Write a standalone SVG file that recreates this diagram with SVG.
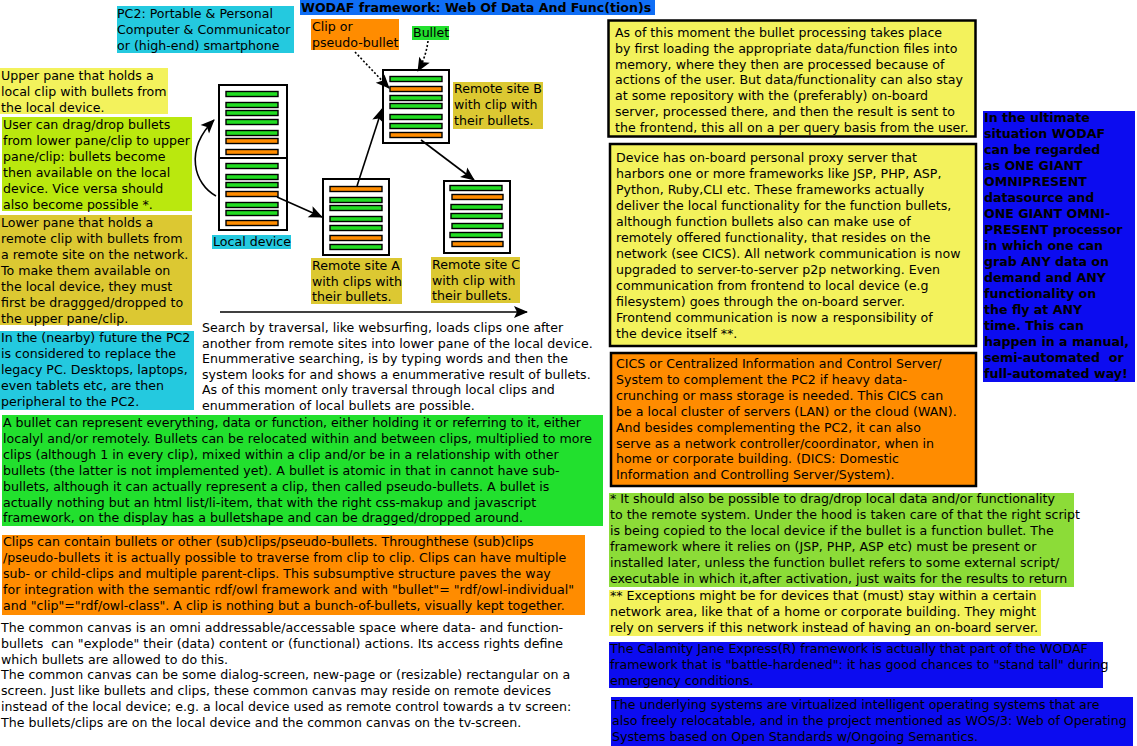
<svg xmlns="http://www.w3.org/2000/svg" width="1137" height="746" viewBox="0 0 1137 746">
<style>
text{font-family:"DejaVu Sans","Liberation Sans",sans-serif;font-size:12.6px;fill:#000;white-space:pre}
.b{font-weight:bold}
.box{stroke:none}
.bd{stroke:#000;stroke-width:2.5}
.cy{fill:#24c9df}.ye{fill:#f3f25c}.li{fill:#bae80e}.ol{fill:#dcc832}.gr{fill:#22e02e}.or{fill:#ff8c00}.lg{fill:#8cdc38}.bl{fill:#0c0cf0}.tb{fill:#0f6ef5}
.clip{fill:#fff;stroke:#000;stroke-width:2}
.g{fill:#22dd22;stroke:#000;stroke-width:1.4}
.o{fill:#ff8c00;stroke:#000;stroke-width:1.4}
.c{fill:none;stroke:#000;stroke-width:1.6}
.d{fill:none;stroke:#000;stroke-width:1.6;stroke-dasharray:2,2}
</style>
<defs>
<marker id="ah" markerUnits="userSpaceOnUse" markerWidth="16" markerHeight="14" refX="13" refY="6" orient="auto" overflow="visible">
<path d="M0,0 L14,6 L0,12 L3,6 z" fill="#000"/>
</marker>
</defs>
<rect width="1137" height="746" fill="#fff"/>

<g id="title">
<rect class="box tb" x="300" y="0" width="355" height="15"/>
<text class="b" x="301" y="12">WODAF framework: Web Of Data And Func(tion)s</text>
</g>

<g id="pc2">
<rect class="box cy" x="117" y="6" width="177" height="47"/>
<text><tspan x="117" y="18">PC2: Portable &amp; Personal</tspan><tspan x="117" y="34">Computer &amp; Communicator</tspan><tspan x="117" y="50">or (high-end) smartphone</tspan></text>
</g>

<g id="upper-pane">
<rect class="box ye" x="0" y="68" width="168" height="46"/>
<text><tspan x="1" y="80">Upper pane that holds a</tspan><tspan x="1" y="96">local clip with bullets from</tspan><tspan x="1" y="112">the local device.</tspan></text>
</g>

<g id="drag-drop">
<rect class="box li" x="2" y="117" width="190" height="94"/>
<text><tspan x="3" y="129">User can drag/drop bullets</tspan><tspan x="3" y="145">from lower pane/clip to upper</tspan><tspan x="3" y="161">pane/clip: bullets become</tspan><tspan x="3" y="177">then available on the local</tspan><tspan x="3" y="193">device. Vice versa should</tspan><tspan x="3" y="209">also become possible *.</tspan></text>
</g>

<g id="lower-pane">
<rect class="box ol" x="0" y="215" width="192" height="110"/>
<text><tspan x="1" y="227">Lower pane that holds a</tspan><tspan x="1" y="243">remote clip with bullets from</tspan><tspan x="1" y="259">a remote site on the network.</tspan><tspan x="1" y="275">To make them available on</tspan><tspan x="1" y="291">the local device, they must</tspan><tspan x="1" y="307">first be draggged/dropped to</tspan><tspan x="1" y="323">the upper pane/clip.</tspan></text>
</g>

<g id="future">
<rect class="box cy" x="0" y="331" width="194" height="79"/>
<text><tspan x="1" y="342">In the (nearby) future the PC2</tspan><tspan x="1" y="358">is considered to replace the</tspan><tspan x="1" y="374">legacy PC. Desktops, laptops,</tspan><tspan x="1" y="390">even tablets etc, are then</tspan><tspan x="1" y="406">peripheral to the PC2.</tspan></text>
</g>

<g id="local-device">
<rect class="clip" x="219" y="85" width="68" height="145"/>
<line x1="219" y1="158" x2="287" y2="158" stroke="#000" stroke-width="2"/>
<rect class="g" x="226" y="91.5" width="52" height="5"/>
<rect class="g" x="226" y="102.5" width="52" height="5"/>
<rect class="g" x="226" y="110.5" width="52" height="5"/>
<rect class="g" x="226" y="119.5" width="52" height="5"/>
<rect class="g" x="226" y="130.5" width="52" height="5"/>
<rect class="o" x="226" y="138.5" width="52" height="5"/>
<rect class="o" x="226" y="149.5" width="52" height="5"/>
<rect class="g" x="226" y="163.5" width="52" height="5"/>
<rect class="g" x="226" y="174.5" width="52" height="5"/>
<rect class="g" x="226" y="182.5" width="52" height="5"/>
<rect class="o" x="226" y="191.5" width="52" height="5"/>
<rect class="g" x="226" y="202.5" width="52" height="5"/>
<rect class="g" x="226" y="210.5" width="52" height="5"/>
<rect class="o" x="226" y="220.5" width="52" height="5"/>
<rect class="box cy" x="212" y="235" width="79" height="14"/>
<text x="213" y="246">Local device</text>
</g>

<g id="remote-a">
<rect class="clip" x="323" y="179" width="66" height="76"/>
<rect class="o" x="330" y="186.5" width="52" height="5"/>
<rect class="g" x="330" y="197.5" width="52" height="5"/>
<rect class="g" x="330" y="205.5" width="52" height="5"/>
<rect class="g" x="330" y="216.5" width="52" height="5"/>
<rect class="g" x="330" y="225.5" width="52" height="5"/>
<rect class="o" x="330" y="235.5" width="52" height="5"/>
<rect class="g" x="330" y="244.5" width="52" height="5"/>
<rect class="box ol" x="311" y="258" width="91" height="46"/>
<text><tspan x="312" y="270">Remote site A</tspan><tspan x="312" y="286">with clips with</tspan><tspan x="312" y="301">their bullets.</tspan></text>
</g>

<g id="remote-b">
<rect class="clip" x="383" y="70" width="66" height="73"/>
<rect class="g" x="390" y="76.5" width="52" height="5"/>
<rect class="o" x="390" y="86.5" width="52" height="5"/>
<rect class="g" x="390" y="95.5" width="52" height="5"/>
<rect class="g" x="390" y="103.5" width="52" height="5"/>
<rect class="g" x="390" y="114.5" width="52" height="5"/>
<rect class="g" x="390" y="123.5" width="52" height="5"/>
<rect class="o" x="390" y="132.5" width="52" height="5"/>
<rect class="box ol" x="453" y="82" width="90" height="47"/>
<text><tspan x="454" y="93">Remote site B</tspan><tspan x="454" y="109">with clip with</tspan><tspan x="454" y="125">their bullets.</tspan></text>
</g>

<g id="remote-c">
<rect class="clip" x="444" y="181" width="66" height="72"/>
<rect class="g" x="450" y="185.5" width="52" height="5"/>
<rect class="o" x="452" y="194.5" width="51" height="5"/>
<rect class="g" x="451" y="204.5" width="51" height="5"/>
<rect class="g" x="451" y="213.5" width="51" height="5"/>
<rect class="g" x="452" y="223.5" width="51" height="5"/>
<rect class="g" x="450" y="232.5" width="52" height="5"/>
<rect class="o" x="452" y="241.5" width="51" height="5"/>
<rect class="box ol" x="431" y="257" width="89" height="46"/>
<text><tspan x="432" y="269">Remote site C</tspan><tspan x="432" y="285">with clip with</tspan><tspan x="432" y="300">their bullets.</tspan></text>
</g>

<g id="label-clip">
<rect class="box or" x="311" y="19" width="88" height="31"/>
<text><tspan x="312" y="31">Clip or</tspan><tspan x="312" y="47">pseudo-bullet</tspan></text>
</g>

<g id="label-bullet">
<rect class="box gr" x="412" y="26" width="37" height="14"/>
<text x="413" y="37">Bullet</text>
</g>

<g id="connectors">
<path class="c" d="M216,196 C194,184 184,150 214,120" marker-end="url(#ah)"/>
<path class="c" d="M277,197 L322,217" marker-end="url(#ah)"/>
<path class="c" d="M357,186 L382,109" marker-end="url(#ah)"/>
<path class="c" d="M421,140 L474,180" marker-end="url(#ah)"/>
<path class="d" d="M355,52 L389,88" marker-end="url(#ah)"/>
<path class="d" d="M428,41 Q426,57 418,71" marker-end="url(#ah)"/>
<path class="c" d="M220,312 L527,312" marker-end="url(#ah)"/>
</g>

<g id="search">
<text><tspan x="202" y="332">Search by traversal, like websurfing, loads clips one after</tspan><tspan x="202" y="348">another from remote sites into lower pane of the local device.</tspan><tspan x="202" y="363">Enummerative searching, is by typing words and then the</tspan><tspan x="202" y="379">system looks for and shows a enummerative result of bullets.</tspan><tspan x="202" y="394">As of this moment only traversal through local clips and</tspan><tspan x="202" y="410">enummeration of local bullets are possible.</tspan></text>
</g>

<g id="bullet-desc">
<rect class="box gr" x="2" y="415" width="601" height="111"/>
<text><tspan x="3" y="427">A bullet can represent everything, data or function, either holding it or referring to it, either</tspan><tspan x="3" y="443">localyl and/or remotely. Bullets can be relocated within and between clips, multiplied to more</tspan><tspan x="3" y="459">clips (although 1 in every clip), mixed within a clip and/or be in a relationship with other</tspan><tspan x="3" y="475">bullets (the latter is not implemented yet). A bullet is atomic in that in cannot have sub-</tspan><tspan x="3" y="491">bullets, although it can actually represent a clip, then called pseudo-bullets. A bullet is</tspan><tspan x="3" y="507">actually nothing but an html list/li-item, that with the right css-makup and javascript</tspan><tspan x="3" y="522">framework, on the display has a bulletshape and can be dragged/dropped around.</tspan></text>
</g>

<g id="clip-desc">
<rect class="box or" x="2" y="535" width="583" height="80"/>
<text><tspan x="3" y="546">Clips can contain bullets or other (sub)clips/pseudo-bullets. Throughthese (sub)clips</tspan><tspan x="3" y="562">/pseudo-bullets it is actually possible to traverse from clip to clip. Clips can have multiple</tspan><tspan x="3" y="578">sub- or child-clips and multiple parent-clips. This subsumptive structure paves the way</tspan><tspan x="3" y="594">for integration with the semantic rdf/owl framework and with "bullet"= "rdf/owl-individual"</tspan><tspan x="3" y="610">and "clip"="rdf/owl-class". A clip is nothing but a bunch-of-bullets, visually kept together.</tspan></text>
</g>

<g id="canvas-desc">
<text><tspan x="1" y="632">The common canvas is an omni addressable/accessable space where data- and function-</tspan><tspan x="1" y="648">bullets  can "explode" their (data) content or (functional) actions. Its access rights define</tspan><tspan x="1" y="664">which bullets are allowed to do this.</tspan><tspan x="1" y="679">The common canvas can be some dialog-screen, new-page or (resizable) rectangular on a</tspan><tspan x="1" y="695">screen. Just like bullets and clips, these common canvas may reside on remote devices</tspan><tspan x="1" y="711">instead of the local device; e.g. a local device used as remote control towards a tv screen:</tspan><tspan x="1" y="727">The bullets/clips are on the local device and the common canvas on the tv-screen.</tspan></text>
</g>

<g id="processing">
<rect class="ye bd" x="608.5" y="20.5" width="367" height="116"/>
<text><tspan x="615" y="37">As of this moment the bullet processing takes place</tspan><tspan x="615" y="53">by first loading the appropriate data/function files into</tspan><tspan x="615" y="69">memory, where they then are processed because of</tspan><tspan x="615" y="84">actions of the user. But data/functionality can also stay</tspan><tspan x="615" y="100">at some repository with the (preferably) on-board</tspan><tspan x="615" y="116">server, processed there, and then the result is sent to</tspan><tspan x="615" y="132">the frontend, this all on a per query basis from the user.</tspan></text>
</g>

<g id="proxy-server">
<rect class="ye bd" x="610" y="144" width="366" height="202"/>
<text><tspan x="616" y="162">Device has on-board personal proxy server that</tspan><tspan x="616" y="178">harbors one or more frameworks like JSP, PHP, ASP,</tspan><tspan x="616" y="194">Python, Ruby,CLI etc. These frameworks actually</tspan><tspan x="616" y="210">deliver the local functionality for the function bullets,</tspan><tspan x="616" y="226">although function bullets also can make use of</tspan><tspan x="616" y="242">remotely offered functionality, that resides on the</tspan><tspan x="616" y="258">network (see CICS). All network communication is now</tspan><tspan x="616" y="274">upgraded to server-to-server p2p networking. Even</tspan><tspan x="616" y="290">communication from frontend to local device (e.g</tspan><tspan x="616" y="306">filesystem) goes through the on-board server.</tspan><tspan x="616" y="322">Frontend communication is now a responsibility of</tspan><tspan x="616" y="338">the device itself **.</tspan></text>
</g>

<g id="cics">
<rect class="or bd" x="611" y="353" width="365" height="133"/>
<text><tspan x="616" y="368">CICS or Centralized Information and Control Server/</tspan><tspan x="616" y="384">System to complement the PC2 if heavy data-</tspan><tspan x="616" y="400">crunching or mass storage is needed. This CICS can</tspan><tspan x="616" y="416">be a local cluster of servers (LAN) or the cloud (WAN).</tspan><tspan x="616" y="432">And besides complementing the PC2, it can also</tspan><tspan x="616" y="448">serve as a network controller/coordinator, when in</tspan><tspan x="616" y="463">home or corporate building. (DICS: Domestic</tspan><tspan x="616" y="479">Information and Controlling Server/System).</tspan></text>
</g>

<g id="ultimate">
<rect class="box bl" x="983" y="111" width="152" height="271"/>
<text class="b"><tspan x="984" y="122">In the ultimate</tspan><tspan x="984" y="138">situation WODAF</tspan><tspan x="984" y="154">can be regarded</tspan><tspan x="984" y="170">as ONE GIANT</tspan><tspan x="984" y="186">OMNIPRESENT</tspan><tspan x="984" y="202">datasource and</tspan><tspan x="984" y="218">ONE GIANT OMNI-</tspan><tspan x="984" y="234">PRESENT processor</tspan><tspan x="984" y="250">in which one can</tspan><tspan x="984" y="266">grab ANY data on</tspan><tspan x="984" y="282">demand and ANY</tspan><tspan x="984" y="298">functionality on</tspan><tspan x="984" y="314">the fly at ANY</tspan><tspan x="984" y="330">time. This can</tspan><tspan x="984" y="346">happen in a manual,</tspan><tspan x="984" y="362">semi-automated  or</tspan><tspan x="984" y="378">full-automated way!</tspan></text>
</g>

<g id="footnote-1">
<rect class="box lg" x="609" y="493" width="465" height="94"/>
<text><tspan x="610" y="503">* It should also be possible to drag/drop local data and/or functionality</tspan><tspan x="610" y="519">to the remote system. Under the hood is taken care of that the right script</tspan><tspan x="610" y="535">is being copied to the local device if the bullet is a function bullet. The</tspan><tspan x="610" y="551">framework where it relies on (JSP, PHP, ASP etc) must be present or</tspan><tspan x="610" y="567">installed later, unless the function bullet refers to some external script/</tspan><tspan x="610" y="583">executable in which it,after activation, just waits for the results to return</tspan></text>
</g>

<g id="footnote-2">
<rect class="box ye" x="609" y="590" width="432" height="46"/>
<text><tspan x="610" y="600">** Exceptions might be for devices that (must) stay within a certain</tspan><tspan x="610" y="616">network area, like that of a home or corporate building. They might</tspan><tspan x="610" y="632">rely on servers if this network instead of having an on-board server.</tspan></text>
</g>

<g id="calamity-jane">
<rect class="box bl" x="609" y="642" width="494" height="46"/>
<text><tspan x="610" y="653">The Calamity Jane Express(R) framework is actually that part of the WODAF</tspan><tspan x="610" y="669">framework that is "battle-hardened": it has good chances to "stand tall" during</tspan><tspan x="610" y="685">emergency conditions.</tspan></text>
</g>

<g id="wos3">
<rect class="box bl" x="611" y="697" width="522" height="49"/>
<text><tspan x="612" y="709">The underlying systems are virtualized intelligent operating systems that are</tspan><tspan x="612" y="725">also freely relocatable, and in the project mentioned as WOS/3: Web of Operating</tspan><tspan x="612" y="741">Systems based on Open Standards w/Ongoing Semantics.</tspan></text>
</g>
</svg>
